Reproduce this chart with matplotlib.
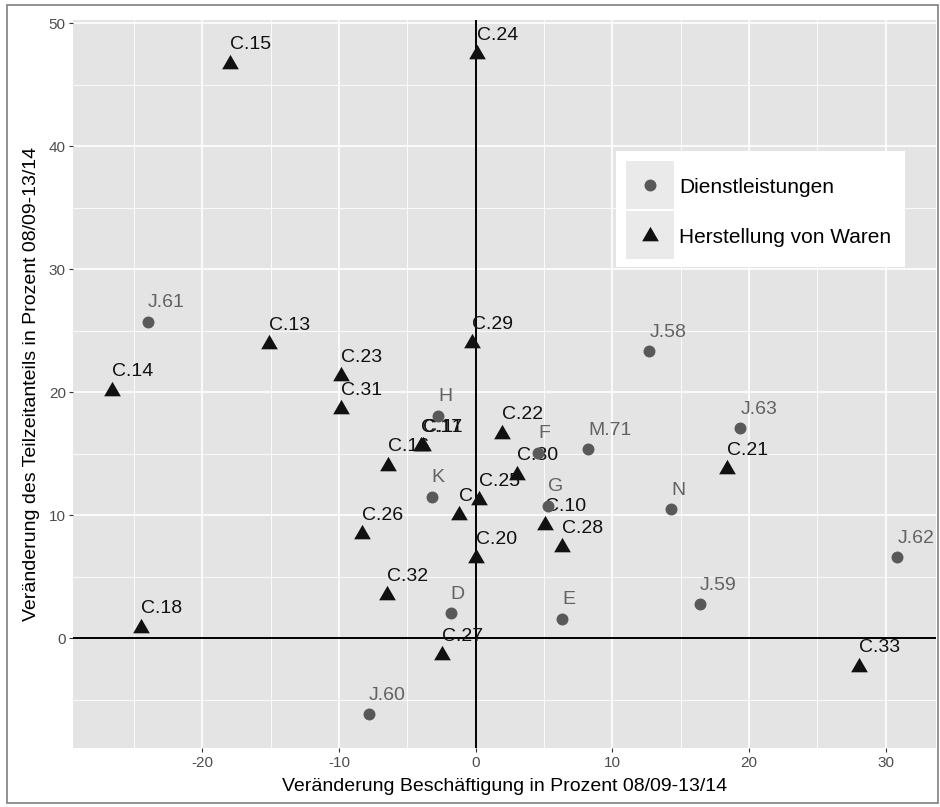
import matplotlib
matplotlib.use('Agg')
import matplotlib.pyplot as plt
from matplotlib.patches import Rectangle
from matplotlib.lines import Line2D
from matplotlib.transforms import Affine2D
from matplotlib.ticker import MultipleLocator

W, H = 940, 807
plt.rcParams['font.family'] = ['Liberation Sans', 'DejaVu Sans']
plt.rcParams['axes.unicode_minus'] = False

# Dienstleistungen
dl_labels = ['J.61', 'H', 'K', 'D', 'J.60', 'F', 'G', 'E', 'M.71', 'J.58', 'N', 'J.63', 'J.59', 'J.62']
dl_x = [-23.99, -2.76, -3.22, -1.83, -7.80, 4.58, 5.31, 6.34, 8.21, 12.70, 14.29, 19.35, 16.41, 30.84]
dl_y = [25.74, 18.10, 11.51, 2.03, -6.18, 15.09, 10.78, 1.60, 15.39, 23.36, 10.49, 17.07, 2.76, 6.59]

# Herstellung von Waren
hw_labels = ['C.15', 'C.24', 'C.13', 'C.29', 'C.23', 'C.14', 'C.31', 'C.16', 'C.17', 'C.11', 'C',
             'C.25', 'C.26', 'C.20', 'C.32', 'C.18', 'C.27', 'C.22', 'C.30', 'C.21', 'C.10', 'C.28', 'C.33']
hw_x = [-17.97, 0.07, -15.10, -0.25, -9.85, -26.58, -9.85, -6.41, -3.97, -3.85, -1.22,
        0.24, -8.29, 0.00, -6.51, -24.48, -2.44, 1.95, 2.99, 18.36, 5.07, 6.34, 28.06]
hw_y = [46.73, 47.50, 23.90, 24.00, 21.30, 20.13, 18.63, 14.03, 15.65, 15.60, 10.00,
        11.23, 8.47, 6.50, 3.50, 0.88, -1.37, 16.65, 13.30, 13.75, 9.20, 7.39, -2.29]

legend_labels = ['Dienstleistungen', 'Herstellung von Waren']

DL_COL = '#595959'
DL_TXT = '#626262'
HW_COL = '#111111'
tri = [(-1, -0.577), (1, -0.577), (0, 1.155)]

fig = plt.figure(figsize=(W / 100, H / 100), dpi=100)
px = Affine2D().scale(1 / W, -1 / H).translate(0, 1) + fig.transFigure

ax = fig.add_axes([73.3 / W, 1 - 748.3 / H, (936 - 73.3) / W, (748.3 - 20) / H])
ax.set_facecolor('#E4E4E4')
ax.set_xlim(-29.44, 33.67)
ax.set_ylim(-8.94, 50.27)
ax.xaxis.set_major_locator(MultipleLocator(10))
ax.xaxis.set_minor_locator(MultipleLocator(5))
ax.yaxis.set_major_locator(MultipleLocator(10))
ax.yaxis.set_minor_locator(MultipleLocator(5))
ax.grid(which='major', color='white', lw=1.2)
ax.grid(which='minor', color='white', lw=0.6)
ax.set_axisbelow(True)
for s in ax.spines.values():
    s.set_visible(False)
ax.tick_params(which='major', length=2.9, width=0.8, color='#333333',
               labelcolor='#4D4D4D', labelsize=11, pad=2.5)
ax.tick_params(which='minor', length=0)

ax.axhline(0, color='black', lw=1.4, zorder=2)
ax.axvline(0, color='black', lw=1.4, zorder=2)

ax.plot(dl_x, dl_y, ls='none', marker='o', ms=8.6, color=DL_COL, mec='none', zorder=4)
ax.plot(hw_x, hw_y, ls='none', marker=tri, ms=13.9, color=HW_COL, mec='none', zorder=4)

for lab, x, y in zip(dl_labels, dl_x, dl_y):
    ax.annotate(lab, (x, y), xytext=(0, 10.3), textcoords='offset points',
                ha='left', va='baseline', fontsize=14, color=DL_TXT, zorder=3)
for lab, x, y in zip(hw_labels, hw_x, hw_y):
    ax.annotate(lab, (x, y), xytext=(0, 10.3), textcoords='offset points',
                ha='left', va='baseline', fontsize=14, color=HW_COL, zorder=3)

# axis titles
fig.text(504.6, 791, 'Veränderung Beschäftigung in Prozent 08/09-13/14', transform=px,
         ha='center', va='baseline', fontsize=14)
fig.text(32, 384, 'Veränderung des Teilzeitanteils in Prozent 08/09-13/14', transform=px,
         ha='center', va='center', rotation=90, fontsize=14)

# legend
fig.add_artist(Rectangle((615.7, 150.7), 289.3, 116.6, transform=px, fc='white', ec='none'))
fig.add_artist(Rectangle((626, 161.3), 48, 47.7, transform=px, fc='#EAEAEA', ec='none'))
fig.add_artist(Rectangle((626, 211), 48, 47.7, transform=px, fc='#EAEAEA', ec='none'))
fig.add_artist(Line2D([650], [185.3], transform=px, ls='none', marker='o', ms=8.6,
                      color=DL_COL, mec='none'))
fig.add_artist(Line2D([650], [235.7], transform=px, ls='none', marker=tri, ms=13.9,
                      color=HW_COL, mec='none'))
fig.text(679.3, 193.3, legend_labels[0], transform=px, va='baseline', fontsize=15)
fig.text(679.3, 243.3, legend_labels[1], transform=px, va='baseline', fontsize=15)

# outer frame
fig.add_artist(Rectangle((7, 5), 931, 798, transform=px, fill=False, ec='#7F7F7F', lw=1.2))

fig.savefig('out.png', dpi=100)
